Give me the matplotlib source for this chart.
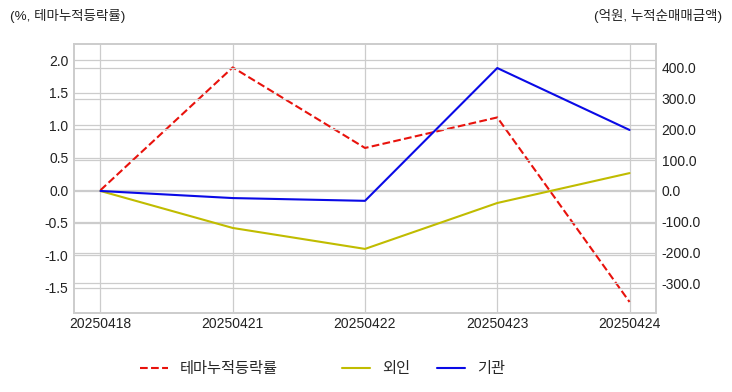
import matplotlib
matplotlib.use('Agg')
import matplotlib.pyplot as plt

# 데이터
dates = ['20250418', '20250421', '20250422', '20250423', '20250424']
theme_rate = [0.0, 1.89, 0.65, 1.12, -1.72]
foreign = [0.0, -120.0, -188.0, -39.0, 58.0]
institution = [0.0, -23.0, -32.0, 399.0, 198.0]

plt.style.use('seaborn-v0_8-whitegrid')
plt.rcParams['font.family'] = ['Liberation Sans', 'Noto Sans CJK KR', 'DejaVu Sans']
plt.rcParams['axes.unicode_minus'] = False

fig = plt.figure(figsize=(7.32, 3.92), dpi=100)
ax1 = fig.add_axes([74 / 732, 1 - 313 / 392, (656 - 74) / 732, (313 - 44) / 392])
ax2 = ax1.twinx()

x = range(len(dates))
l1, = ax1.plot(x, theme_rate, color='#e8120c', linestyle='--', linewidth=1.5, label='테마누적등락률')
l2, = ax2.plot(x, foreign, color='#c0bc00', linewidth=1.5, label='외인')
l3, = ax2.plot(x, institution, color='#0a0ae6', linewidth=1.5, label='기관')

ax1.set_xlim(-0.2, 4.2)
ax1.set_ylim(-1.89, 2.25)
ax2.set_ylim(-396, 477)
ax1.set_xticks(list(x))
ax1.set_xticklabels(dates)
ax1.set_yticks([-1.5, -1.0, -0.5, 0.0, 0.5, 1.0, 1.5, 2.0])
ax1.yaxis.set_major_formatter(plt.FuncFormatter(lambda v, p: f'{v:.1f}'))
ax2.set_yticks([-300, -200, -100, 0, 100, 200, 300, 400])
ax2.yaxis.set_major_formatter(plt.FuncFormatter(lambda v, p: f'{v:.1f}'))

for ax in (ax1, ax2):
    ax.tick_params(labelsize=10, colors='#222222', pad=4)
    ax.grid(True, color='#cccccc', linewidth=0.9)
    for s in ax.spines.values():
        s.set_visible(True)
        s.set_color('#cccccc')
        s.set_linewidth(1.2)
ax1.tick_params(axis='x', pad=3)

fig.text(10 / 732, 1 - 16 / 392, '(%, 테마누적등락률)', fontsize=9.7, color='#222222', va='center', ha='left')
fig.text(722 / 732, 1 - 16 / 392, '(억원, 누적순매매금액)', fontsize=9.7, color='#222222', va='center', ha='right')

# 범례 - 항목별 위치
for h, left in ((l1, 140), (l2, 342), (l3, 437)):
    fig.legend(handles=[h], loc='center left', bbox_to_anchor=(left / 732, 1 - 369 / 392),
               frameon=False, fontsize=11, handlelength=1.8, handletextpad=0.8,
               borderpad=0, borderaxespad=0)

fig.savefig('out.png', dpi=100)
